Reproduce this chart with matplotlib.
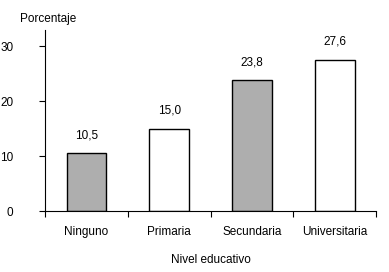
import matplotlib
matplotlib.use("Agg")
import matplotlib.pyplot as plt
import numpy as np

plt.rcParams['font.family'] = ['Liberation Sans', 'DejaVu Sans']

categories = ['Ninguno', 'Primaria', 'Secundaria', 'Universitaria']
values = [10.5, 15.0, 23.8, 27.6]
colors = ['#aeaeae', 'white', '#aeaeae', 'white']
labels = ['10,5', '15,0', '23,8', '27,6']

fig = plt.figure(figsize=(3.89, 2.72), dpi=100)
ax = fig.add_axes([0.116, 0.224, 0.851, 0.666])

x = np.arange(len(categories))
ax.bar(x, values, width=0.48, color=colors, edgecolor='black', linewidth=1)

for xi, v, lab in zip(x, values, labels):
    ax.text(xi, v + 2.2, lab, ha='center', va='bottom', fontsize=8.5)

ax.set_xlim(-0.5, 3.5)
ax.set_ylim(0, 33)
ax.set_yticks([0, 10, 20, 30])
ax.set_xticks([-0.5, 0.5, 1.5, 2.5, 3.5])
ax.set_xticklabels([])
ax.set_xticks(x, minor=True)
ax.set_xticklabels(categories, minor=True, fontsize=8.5)
ax.tick_params(axis='x', which='minor', length=0, pad=11)
ax.tick_params(axis='x', which='major', length=4, direction='out')
ax.tick_params(axis='y', length=4, direction='out', labelsize=8.5, pad=19)

ax.spines['top'].set_visible(False)
ax.spines['right'].set_visible(False)

ax.set_xlabel('Nivel educativo', fontsize=8.5, labelpad=11)
fig.text(20 / 389, 1 - 19 / 272, 'Porcentaje', fontsize=8.5, va='center', ha='left')

fig.savefig('out.png', dpi=100)
